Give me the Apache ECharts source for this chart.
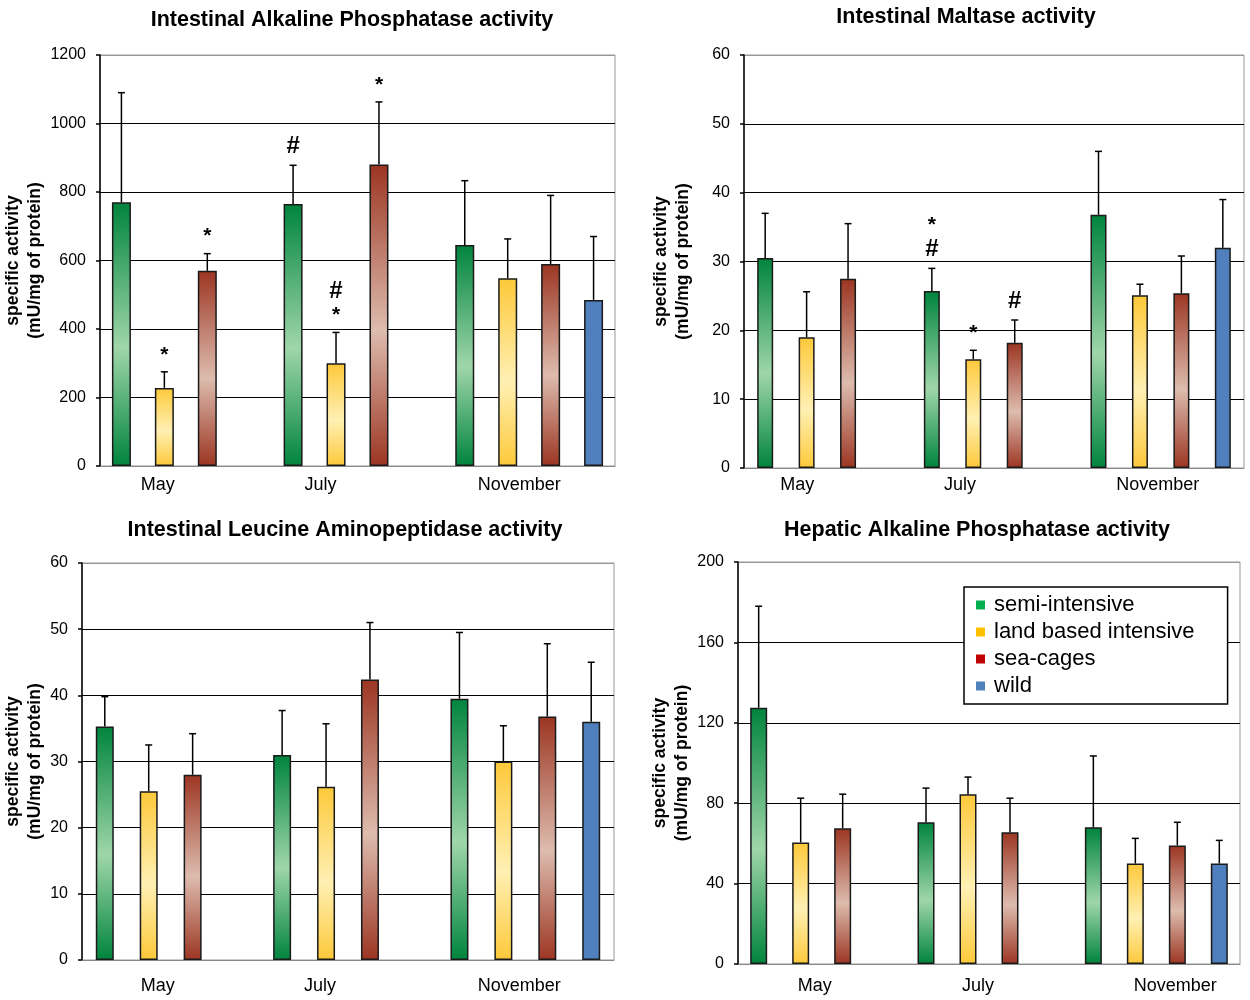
<!DOCTYPE html>
<html><head><meta charset="utf-8">
<script src="https://cdn.jsdelivr.net/npm/echarts@6/dist/echarts.min.js"></script>
<style>html,body{margin:0;padding:0;background:#fff}#c{width:1250px;height:1000px}</style>
</head><body><div id="c"></div>
<script>
const months = ['May', 'July', 'November'];
const groups = ['semi-intensive', 'land based intensive', 'sea-cages', 'wild'];
const legendColors = ['#00b050', '#ffc000', '#c00000', '#4f81bd'];
const yName = 'specific activity\n(mU/mg of protein)';

// Intestinal Alkaline Phosphatase: means, SD (upper error), significance marks
const iapTitle = 'Intestinal Alkaline Phosphatase activity';
const iapMean = [[770, 765, 645], [228, 300, 548], [570, 880, 590], [null, null, 485]];
const iapErr  = [[320, 113, 188], [47, 90, 115], [50, 183, 200], [null, null, 185]];
const iapMarks = [['', '#', ''], ['*', '#\n*', ''], ['*', '*', ''], ['', '', '']];

// Intestinal Maltase
const malTitle = 'Intestinal Maltase activity';
const malMean = [[30.5, 25.7, 36.8], [19, 15.8, 25.1], [27.5, 18.2, 25.4], [null, null, 32]];
const malErr  = [[6.5, 3.3, 9.2], [6.6, 1.3, 1.6], [8, 3.3, 5.4], [null, null, 7]];
const malMarks = [['', '*\n#', ''], ['', '*', ''], ['', '#', ''], ['', '', '']];

// Intestinal Leucine Aminopeptidase
const lapTitle = 'Intestinal Leucine Aminopeptidase activity';
const lapMean = [[35.3, 31, 39.5], [25.5, 26.2, 30], [28, 42.4, 36.8], [null, null, 36]];
const lapErr  = [[4.5, 6.7, 10], [7, 9.5, 5.4], [6.2, 8.6, 11], [null, null, 9]];
const lapMarks = [['', '', ''], ['', '', ''], ['', '', ''], ['', '', '']];

// Hepatic Alkaline Phosphatase
const hapTitle = 'Hepatic Alkaline Phosphatase activity';
const hapMean = [[127.5, 70.5, 68], [60.5, 84.5, 50], [67.5, 65.5, 59], [null, null, 50]];
const hapErr  = [[50.5, 17, 35.5], [22, 8.5, 12.5], [17, 17, 11.5], [null, null, 11.5]];
const hapMarks = [['', '', ''], ['', '', ''], ['', '', ''], ['', '', '']];

const yTicks = [[0, 1200, 200], [0, 60, 10], [0, 60, 10], [0, 200, 40]];

const panels = [
  { title: iapTitle, mean: iapMean, err: iapErr, marks: iapMarks, ticks: yTicks[0],
    grid: { left: 100, top: 55, width: 515, height: 411 }, bw: 19, gap: 1.26,
    shifts: [-28, -37, -10], lblMargin: 10, nameGap: 52, tx: 352, ty: 9 },
  { title: malTitle, mean: malMean, err: malErr, marks: malMarks, ticks: yTicks[1],
    grid: { left: 744, top: 55, width: 500, height: 413 }, bw: 16, gap: 1.59,
    shifts: [-30, -34, -3], lblMargin: 8, nameGap: 50, tx: 966, ty: 6 },
  { title: lapTitle, mean: lapMean, err: lapErr, marks: lapMarks, ticks: yTicks[2],
    grid: { left: 82, top: 563, width: 532, height: 397 }, bw: 18, gap: 1.44,
    shifts: [-13, -28, -6], lblMargin: 17, nameGap: 36, tx: 345, ty: 519 },
  { title: hapTitle, mean: hapMean, err: hapErr, marks: hapMarks, ticks: yTicks[3],
    grid: { left: 738, top: 562, width: 502, height: 402 }, bw: 17, gap: 1.47,
    shifts: [-7, -11, 19], lblMargin: 13, nameGap: 45, tx: 977, ty: 519 }
];

const FONT = '"Liberation Sans", Arial, sans-serif';
function grad(c1, c2) {
  return new echarts.graphic.LinearGradient(0, 0, 0, 1, [
    { offset: 0, color: c1 }, { offset: 0.55, color: c2 }, { offset: 1, color: c1 }
  ]);
}
const fills = [
  grad('#00843d', '#9fd6a9'),
  grad('#fdc93a', '#fff0b3'),
  grad('#9c3522', '#ddbcae'),
  '#4f7fbd'
];

const option = {
  animation: false,
  backgroundColor: '#fff',
  textStyle: { fontFamily: FONT },
  grid: [], xAxis: [], yAxis: [], series: [],
  graphic: [],
  legend: {
    orient: 'vertical', left: 964, top: 587,
    itemWidth: 9, itemHeight: 9, itemGap: 5,
    padding: [7, 33, 7, 12],
    borderColor: '#000', borderWidth: 1.5, backgroundColor: '#fff',
    textStyle: { fontSize: 22, color: '#000', fontFamily: FONT, padding: [0, 0, 0, 4] },
    selectedMode: false,
    data: groups.map((n, i) => ({ name: n, icon: 'rect', itemStyle: { color: legendColors[i], borderWidth: 0 } }))
  }
};

function markRich(m) {
  return m.split('\n').map(ch => ch === '#' ? '{h|#}' : '{s|*}').join('\n');
}

panels.forEach((p, pi) => {
  option.grid.push(Object.assign({ show: true, borderColor: '#999', borderWidth: 1, backgroundColor: 'transparent' }, p.grid));
  const rich = {};
  p.shifts.forEach((s, i) => {
    rich['c' + i] = { fontSize: 18, color: '#000', fontFamily: FONT,
      padding: s < 0 ? [0, -2 * s, 0, 0] : [0, 0, 0, 2 * s] };
  });
  option.xAxis.push({
    type: 'category', gridIndex: pi, data: months,
    axisLine: { lineStyle: { color: '#888', width: 1 } },
    axisTick: { show: false },
    axisLabel: { margin: p.lblMargin, interval: 0, formatter: (v, i) => '{c' + i + '|' + v + '}', rich: rich },
    splitLine: { show: false }
  });
  const [mn, mx, iv] = p.ticks;
  const nLines = Math.round((mx - mn) / iv) + 1;
  const lineColors = [];
  for (let i = 0; i < nLines; i++) lineColors.push(i === 0 || i === nLines - 1 ? '#999' : '#000');
  option.yAxis.push({
    type: 'value', gridIndex: pi, min: mn, max: mx, interval: iv,
    name: yName, nameLocation: 'middle', nameRotate: 90, nameGap: p.nameGap,
    nameTextStyle: { fontSize: 17.5, fontWeight: 'bold', color: '#000', lineHeight: 22, fontFamily: FONT },
    axisLine: { show: true, lineStyle: { color: '#000', width: 1.5 } },
    axisTick: { show: true, length: 4, lineStyle: { color: '#000', width: 1.5 } },
    axisLabel: { fontSize: 16, color: '#000', margin: 14, fontFamily: FONT, formatter: v => String(v) },
    splitLine: { show: true, lineStyle: { color: lineColors, width: 1.2 } }
  });
  groups.forEach((g, gi) => {
    option.series.push({
      type: 'bar', name: g, xAxisIndex: pi, yAxisIndex: pi,
      data: p.mean[gi].map(v => v == null ? '-' : v),
      barWidth: p.bw, barGap: Math.round(p.gap * 100) + '%',
      itemStyle: { color: fills[gi], borderColor: '#1a1a1a', borderWidth: 1.5 },
      z: 2
    });
  });
  const errData = [];
  p.mean.forEach((arr, gi) => arr.forEach((v, ci) => {
    if (v != null) errData.push([ci, gi, v, p.err[gi][ci]]);
  }));
  option.series.push({
    type: 'custom', xAxisIndex: pi, yAxisIndex: pi, z: 5,
    encode: { x: 0, y: 2 },
    data: errData,
    renderItem: function (params, api) {
      const ci = api.value(0), gi = api.value(1), m = api.value(2), sd = api.value(3);
      const slot = p.bw * (1 + p.gap);
      const cx = api.coord([ci, 0])[0] + (gi - 1.5) * slot;
      const y0 = api.coord([ci, m])[1];
      const y1 = api.coord([ci, m + sd])[1];
      const ch = [
        { type: 'line', shape: { x1: cx, y1: y0, x2: cx, y2: y1 }, style: { stroke: '#000', lineWidth: 1.5 } },
        { type: 'line', shape: { x1: cx - 3.5, y1: y1, x2: cx + 3.5, y2: y1 }, style: { stroke: '#000', lineWidth: 1.5 } }
      ];
      const mk = p.marks[gi][ci];
      if (mk) {
        ch.push({ type: 'text', x: cx, y: y1 - 6, style: {
          text: markRich(mk), align: 'center', verticalAlign: 'bottom',
          rich: {
            h: { fontSize: 24, fontWeight: 'bold', fill: '#000', lineHeight: 26, fontFamily: FONT },
            s: { fontSize: 21, fontWeight: 'bold', fill: '#000', lineHeight: 22, fontFamily: FONT }
          }
        } });
      }
      return { type: 'group', children: ch };
    }
  });
  option.graphic.push({
    type: 'text', x: p.tx, y: p.ty, z: 10,
    style: { text: p.title, align: 'center', verticalAlign: 'top', fontSize: 21.5, fontWeight: 'bold', fill: '#000', fontFamily: FONT }
  });
});

const chart = echarts.init(document.getElementById('c'));
chart.setOption(option);
</script>
</body></html>
